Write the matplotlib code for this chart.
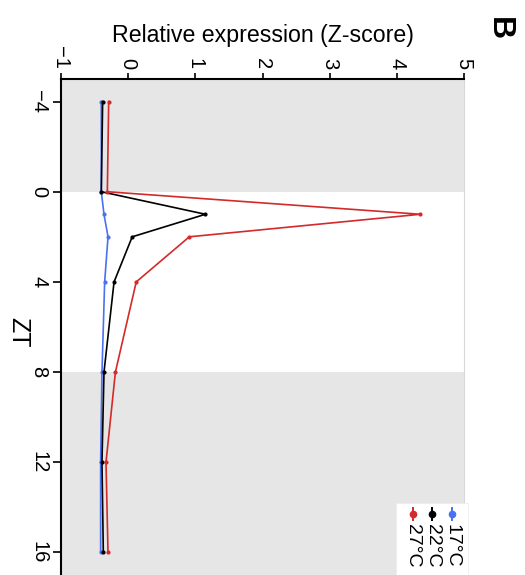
import matplotlib
matplotlib.use("Agg")
import matplotlib.pyplot as plt
from matplotlib.patches import Rectangle
from matplotlib.lines import Line2D

plt.rcParams["font.family"] = ["Liberation Sans", "DejaVu Sans"]

# time points (ZT) and mean z-scores per temperature
zt = [-4, 0, 1, 2, 4, 8, 12, 16]
z_17 = [-0.40, -0.40, -0.36, -0.30, -0.35, -0.39, -0.41, -0.41]
z_22 = [-0.38, -0.40, 1.15, 0.06, -0.21, -0.36, -0.39, -0.37]
z_27 = [-0.29, -0.31, 4.35, 0.91, 0.12, -0.19, -0.33, -0.30]

labels = ["17°C", "22°C", "27°C"]
colors = ["#4a72f0", "black", "#d42a2a"]
series = [z_17, z_22, z_27]

# dark phases shaded grey
dark = [(-5, 0), (8, 17)]

zt_ticks = [-4, 0, 4, 8, 12, 16]
z_ticks = [-1, 0, 1, 2, 3, 4, 5]

W, H = 525, 575
fig = plt.figure(figsize=(W / 100, H / 100), dpi=100)
ax = fig.add_axes([61 / W, 0, 403 / W, 496 / H])


def fig_px(x, y):
    # pixel position from top-left -> figure fraction
    return x / W, 1 - y / H


for lo, hi in dark:
    ax.axhspan(lo, hi, color="#e6e6e6", lw=0, zorder=0)

for vals, c in zip(series, colors):
    ax.plot(vals, zt, color=c, lw=1.2, marker="o", ms=2, zorder=3)

ax.set_xlim(-1, 5)
ax.set_ylim(17, -5)

ax.xaxis.tick_top()
ax.xaxis.set_label_position("top")
ax.set_xticks(z_ticks)
ax.set_xticklabels([str(t).replace("-", "\u2212") for t in z_ticks])
ax.set_yticks(zt_ticks)
ax.set_yticklabels([str(t).replace("-", "\u2212") for t in zt_ticks])
ax.tick_params(axis="x", labelrotation=-90, labelsize=14.5, length=4,
               width=1.2, pad=3)
ax.tick_params(axis="y", labelrotation=-90, labelsize=14.5, length=6,
               width=1.2, pad=3)
for t in ax.get_yticklabels():
    t.set_va("center")

for s in ["top", "left"]:
    ax.spines[s].set_linewidth(1.5)
ax.spines["bottom"].set_visible(False)
ax.spines["right"].set_color("#d8d8d8")
ax.spines["right"].set_linewidth(0.8)

ax.set_xlabel("Relative expression (Z-score)", fontsize=16.7, labelpad=3.5)
ax.set_ylabel("ZT", fontsize=18, rotation=-90, va="center", ha="center")
ax.yaxis.set_label_coords(-0.105, 0.49)

fig.text(*fig_px(499, 29), "B", rotation=-90, fontsize=23,
         fontweight="bold", ha="center", va="center")

# legend box, entries laid side by side
x0, y0 = fig_px(396, 503)
x1, y1 = fig_px(468, 578)
fig.patches.append(Rectangle((x0, y1), x1 - x0, y0 - y1,
                             transform=fig.transFigure, facecolor="white",
                             edgecolor="#eeeeee", lw=0.6, zorder=5))
for i, (lab, c) in enumerate(zip(labels, colors)):
    xc = 452 - i * 19.7
    lx, ly0 = fig_px(xc, 508)
    _, ly1 = fig_px(xc, 520)
    fig.add_artist(Line2D([lx, lx], [ly0, ly1], color=c, lw=1.4,
                          transform=fig.transFigure, zorder=6))
    _, my = fig_px(xc, 514)
    fig.add_artist(Line2D([lx], [my], color=c, marker="o", ms=4.5,
                          transform=fig.transFigure, zorder=6))
    tx, ty = fig_px(xc, 524)
    fig.text(tx, ty, lab, rotation=-90, fontsize=14, ha="center",
             va="top", zorder=7)

fig.savefig("out.png", dpi=100)
